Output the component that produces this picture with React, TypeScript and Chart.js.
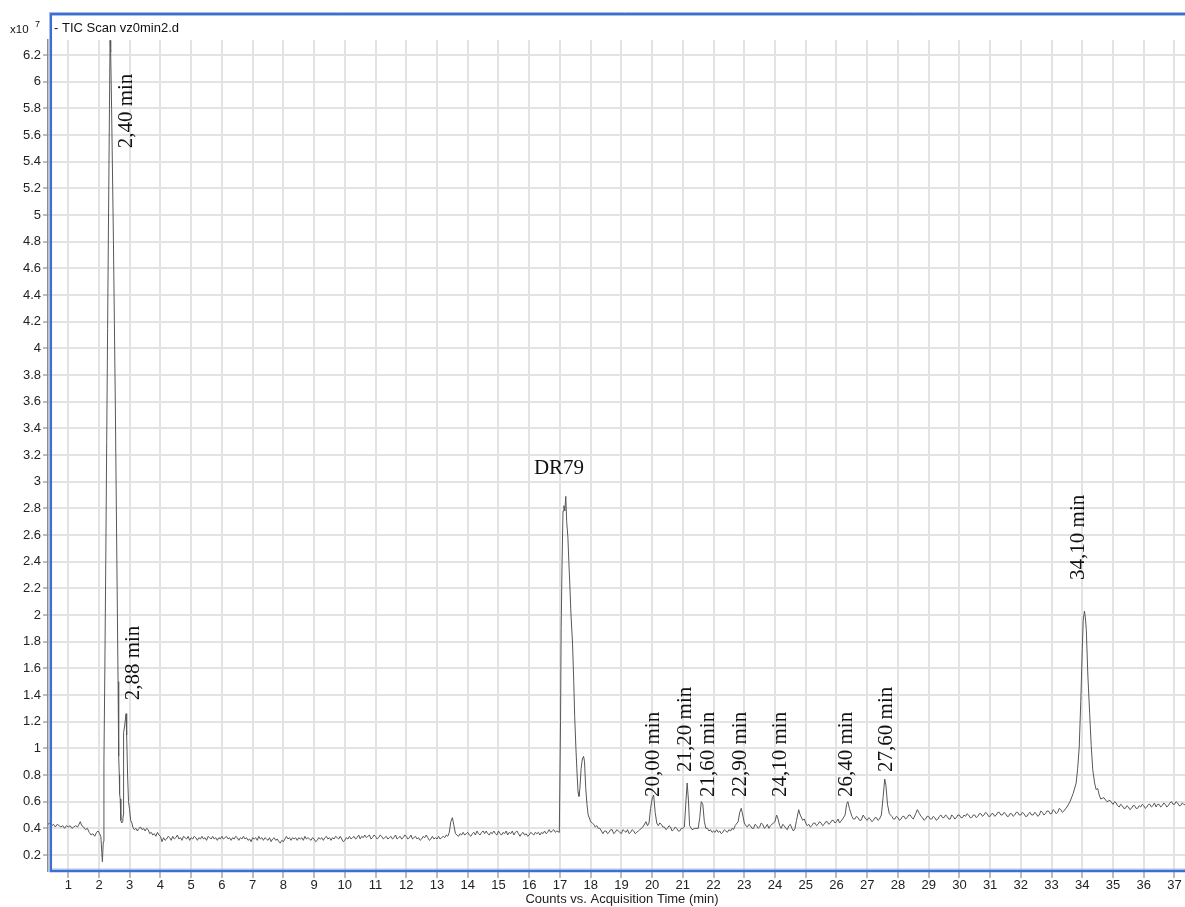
import React, { useEffect, useRef } from "react";
import { Chart, registerables } from "chart.js";

Chart.register(...registerables);

// ---- texts ----
const chartTitle = "- TIC Scan vz0min2.d";
const xAxisTitle = "Counts vs. Acquisition Time (min)";
const yScaleBase = "x10";
const yScaleExp = "7";

// ---- tick labels ----
const xTickValues = [1, 2, 3, 4, 5, 6, 7, 8, 9, 10, 11, 12, 13, 14, 15, 16, 17, 18, 19, 20, 21, 22, 23, 24, 25, 26, 27, 28, 29, 30, 31, 32, 33, 34, 35, 36, 37];
const yTickValues = [0.2, 0.4, 0.6, 0.8, 1, 1.2, 1.4, 1.6, 1.8, 2, 2.2, 2.4, 2.6, 2.8, 3, 3.2, 3.4, 3.6, 3.8, 4, 4.2, 4.4, 4.6, 4.8, 5, 5.2, 5.4, 5.6, 5.8, 6, 6.2];

// ---- TIC trace: [time (min), counts (x10^7)] ----
const segPre: [number, number][] = [
  [0.34, 0.43], [0.40, 0.44], [0.46, 0.42], [0.52, 0.43], [0.58, 0.41], [0.64, 0.43], [0.70, 0.42], [0.76, 0.41],
  [0.82, 0.42], [0.88, 0.40], [0.94, 0.42], [1.00, 0.41], [1.06, 0.42], [1.12, 0.40], [1.18, 0.41], [1.24, 0.42],
  [1.30, 0.41], [1.35, 0.43], [1.39, 0.45], [1.44, 0.42], [1.50, 0.41], [1.56, 0.39], [1.62, 0.40], [1.68, 0.37],
  [1.74, 0.35], [1.80, 0.36], [1.86, 0.34], [1.92, 0.37], [1.97, 0.38], [2.02, 0.36], [2.06, 0.34], [2.09, 0.22],
  [2.11, 0.15],
];

const segSolvent: [number, number][] = [
  [2.14, 0.30], [2.16, 0.90], [2.19, 1.60], [2.22, 2.40], [2.25, 3.30], [2.28, 4.15], [2.31, 5.00], [2.34, 5.80],
  [2.36, 6.31], [2.38, 6.22], [2.41, 5.80], [2.44, 5.30], [2.47, 4.80], [2.50, 4.20], [2.53, 3.60], [2.56, 2.90],
  [2.59, 2.20], [2.62, 1.50], [2.64, 0.94], [2.66, 0.80], [2.67, 0.66], [2.69, 0.62], [2.71, 0.46], [2.74, 0.44],
  [2.77, 0.45], [2.79, 0.50], [2.80, 1.12], [2.83, 1.16], [2.86, 1.22], [2.88, 1.26], [2.90, 1.10], [2.93, 0.80],
  [2.96, 0.60], [2.99, 0.55], [3.03, 0.46], [3.07, 0.44],
];

const segBase: [number, number][] = [
  [3.1, 0.41], [3.15, 0.39], [3.2, 0.40], [3.25, 0.38], [3.3, 0.40], [3.35, 0.41], [3.4, 0.39], [3.45, 0.40],
  [3.5, 0.38], [3.55, 0.40], [3.6, 0.39], [3.65, 0.36], [3.7, 0.37], [3.75, 0.35], [3.8, 0.36], [3.85, 0.34],
  [3.9, 0.37], [3.95, 0.35], [4.0, 0.34], [4.05, 0.30], [4.1, 0.33], [4.15, 0.31], [4.2, 0.32], [4.25, 0.34],
  [4.3, 0.33], [4.35, 0.31], [4.4, 0.34], [4.45, 0.32], [4.5, 0.33], [4.55, 0.35], [4.6, 0.32], [4.65, 0.33],
  [4.7, 0.31], [4.75, 0.34], [4.8, 0.33], [4.85, 0.32], [4.9, 0.34], [4.95, 0.31], [5.0, 0.33], [5.05, 0.32],
  [5.1, 0.34], [5.15, 0.33], [5.2, 0.31], [5.25, 0.33], [5.3, 0.32], [5.35, 0.34], [5.4, 0.32], [5.45, 0.33],
  [5.5, 0.31], [5.55, 0.34], [5.6, 0.33], [5.65, 0.32], [5.7, 0.34], [5.75, 0.32], [5.8, 0.33], [5.85, 0.31],
  [5.9, 0.33], [5.95, 0.32], [6.0, 0.34], [6.05, 0.32], [6.1, 0.33], [6.15, 0.34], [6.2, 0.32], [6.25, 0.33],
  [6.3, 0.31], [6.35, 0.33], [6.4, 0.32], [6.45, 0.34], [6.5, 0.33], [6.55, 0.31], [6.6, 0.33], [6.65, 0.32],
  [6.7, 0.34], [6.75, 0.32], [6.8, 0.33], [6.85, 0.31], [6.9, 0.32], [6.95, 0.30], [7.0, 0.33], [7.05, 0.32],
  [7.1, 0.33], [7.15, 0.31], [7.2, 0.34], [7.25, 0.32], [7.3, 0.33], [7.35, 0.31], [7.4, 0.33], [7.45, 0.32],
  [7.5, 0.31], [7.55, 0.33], [7.6, 0.30], [7.65, 0.32], [7.7, 0.33], [7.75, 0.31], [7.8, 0.32], [7.85, 0.30],
  [7.9, 0.29], [7.95, 0.31], [8.0, 0.30], [8.05, 0.32], [8.1, 0.34], [8.15, 0.32], [8.2, 0.33], [8.25, 0.31],
  [8.3, 0.33], [8.35, 0.32], [8.4, 0.33], [8.45, 0.31], [8.5, 0.33], [8.55, 0.32], [8.6, 0.33], [8.65, 0.31],
  [8.7, 0.34], [8.75, 0.32], [8.8, 0.33], [8.85, 0.32], [8.9, 0.31], [8.95, 0.33], [9.0, 0.32], [9.05, 0.30],
  [9.1, 0.31], [9.15, 0.33], [9.2, 0.32], [9.25, 0.33], [9.3, 0.31], [9.35, 0.33], [9.4, 0.34], [9.45, 0.32],
  [9.5, 0.33], [9.55, 0.31], [9.6, 0.33], [9.65, 0.32], [9.7, 0.34], [9.75, 0.33], [9.8, 0.32], [9.85, 0.34],
  [9.9, 0.32], [9.95, 0.30], [10.0, 0.31], [10.05, 0.33], [10.1, 0.32], [10.15, 0.34], [10.2, 0.32], [10.25, 0.33],
  [10.3, 0.34], [10.35, 0.32], [10.4, 0.33], [10.45, 0.35], [10.5, 0.32], [10.55, 0.34], [10.6, 0.33], [10.65, 0.35],
  [10.7, 0.33], [10.75, 0.34], [10.8, 0.35], [10.85, 0.32], [10.9, 0.33], [10.95, 0.35], [11.0, 0.34], [11.05, 0.32],
  [11.1, 0.33], [11.15, 0.35], [11.2, 0.34], [11.25, 0.32], [11.3, 0.33], [11.35, 0.34], [11.4, 0.32], [11.45, 0.33],
  [11.5, 0.34], [11.55, 0.32], [11.6, 0.33], [11.65, 0.35], [11.7, 0.32], [11.75, 0.33], [11.8, 0.34], [11.85, 0.32],
  [11.9, 0.33], [11.95, 0.35], [12.0, 0.34], [12.05, 0.32], [12.1, 0.33], [12.15, 0.35], [12.2, 0.32], [12.25, 0.33],
  [12.3, 0.34], [12.35, 0.32], [12.4, 0.33], [12.45, 0.31], [12.5, 0.32], [12.55, 0.34], [12.6, 0.33], [12.65, 0.35],
  [12.7, 0.33], [12.75, 0.31], [12.8, 0.32], [12.85, 0.34], [12.9, 0.32], [12.95, 0.33], [13.0, 0.32], [13.05, 0.34],
  [13.1, 0.32], [13.15, 0.33], [13.2, 0.34], [13.25, 0.33], [13.3, 0.35], [13.35, 0.34],
  [13.4, 0.37], [13.45, 0.45], [13.5, 0.48], [13.55, 0.42], [13.6, 0.36], [13.65, 0.35], [13.7, 0.34], [13.75, 0.36],
  [13.8, 0.35], [13.85, 0.37], [13.9, 0.35], [13.95, 0.36], [14.0, 0.37], [14.05, 0.35], [14.1, 0.34], [14.15, 0.36],
  [14.2, 0.37], [14.25, 0.35], [14.3, 0.38], [14.35, 0.36], [14.4, 0.35], [14.45, 0.37], [14.5, 0.38], [14.55, 0.36],
  [14.6, 0.38], [14.65, 0.36], [14.7, 0.35], [14.75, 0.37], [14.8, 0.36], [14.85, 0.38], [14.9, 0.36], [14.95, 0.35],
  [15.0, 0.38], [15.05, 0.36], [15.1, 0.35], [15.15, 0.37], [15.2, 0.36], [15.25, 0.38], [15.3, 0.35], [15.35, 0.37],
  [15.4, 0.36], [15.45, 0.38], [15.5, 0.35], [15.55, 0.37], [15.6, 0.38], [15.65, 0.36], [15.7, 0.34], [15.75, 0.36],
  [15.8, 0.37], [15.85, 0.35], [15.9, 0.36], [15.95, 0.34], [16.0, 0.35], [16.05, 0.37], [16.1, 0.36], [16.15, 0.35],
  [16.2, 0.37], [16.25, 0.36], [16.3, 0.37], [16.35, 0.35], [16.4, 0.37], [16.45, 0.36], [16.5, 0.38], [16.55, 0.36],
  [16.6, 0.37], [16.65, 0.39], [16.7, 0.37], [16.75, 0.38], [16.8, 0.39], [16.85, 0.37], [16.9, 0.38], [16.98, 0.37],
];

const segDR79: [number, number][] = [
  [17.0, 0.37], [17.02, 1.20], [17.04, 1.90], [17.07, 2.40], [17.10, 2.78], [17.13, 2.82], [17.16, 2.78], [17.19, 2.89],
  [17.22, 2.70], [17.26, 2.58], [17.29, 2.40], [17.32, 2.24], [17.36, 2.00], [17.41, 1.79], [17.45, 1.50], [17.48, 1.24],
  [17.52, 1.00], [17.56, 0.80], [17.59, 0.67], [17.62, 0.64], [17.65, 0.70], [17.69, 0.85], [17.73, 0.92], [17.77, 0.94],
  [17.80, 0.90], [17.84, 0.70], [17.88, 0.58], [17.92, 0.50], [17.97, 0.47], [18.0, 0.45], [18.05, 0.44],
];

const segMid: [number, number][] = [
  [18.1, 0.43], [18.15, 0.41], [18.2, 0.42], [18.25, 0.40], [18.3, 0.40], [18.35, 0.38], [18.4, 0.36], [18.45, 0.38],
  [18.5, 0.38], [18.55, 0.36], [18.6, 0.37], [18.65, 0.39], [18.7, 0.39], [18.75, 0.36], [18.8, 0.37], [18.85, 0.39],
  [18.9, 0.38], [18.95, 0.37], [19.0, 0.36], [19.05, 0.39], [19.1, 0.38], [19.15, 0.37], [19.2, 0.39], [19.25, 0.36],
  [19.3, 0.37], [19.35, 0.39], [19.4, 0.38], [19.45, 0.36], [19.5, 0.37], [19.55, 0.38], [19.6, 0.39],
  [19.7, 0.41], [19.8, 0.45], [19.85, 0.42], [19.9, 0.44], [19.95, 0.55], [20.0, 0.62], [20.05, 0.65], [20.1, 0.52],
  [20.15, 0.44], [20.2, 0.42], [20.25, 0.44], [20.3, 0.43], [20.35, 0.41], [20.4, 0.41], [20.45, 0.39], [20.5, 0.40],
  [20.55, 0.42], [20.6, 0.41], [20.65, 0.38], [20.7, 0.39], [20.75, 0.41], [20.8, 0.40], [20.85, 0.38], [20.9, 0.38],
  [20.95, 0.40], [21.0, 0.40], [21.05, 0.41], [21.1, 0.60], [21.14, 0.74], [21.18, 0.62], [21.22, 0.42], [21.3, 0.39],
  [21.4, 0.40], [21.5, 0.40], [21.55, 0.48], [21.6, 0.60], [21.65, 0.58], [21.7, 0.45], [21.75, 0.40], [21.8, 0.40],
  [21.85, 0.38], [21.9, 0.39], [21.95, 0.37], [22.0, 0.38], [22.05, 0.37], [22.1, 0.39], [22.15, 0.37], [22.2, 0.38],
  [22.25, 0.36], [22.3, 0.37], [22.35, 0.39], [22.4, 0.38], [22.45, 0.37], [22.5, 0.39], [22.55, 0.38], [22.6, 0.40],
  [22.65, 0.39], [22.7, 0.42], [22.8, 0.45], [22.85, 0.52], [22.9, 0.55], [22.95, 0.50], [23.0, 0.44], [23.05, 0.42],
  [23.1, 0.41], [23.15, 0.43], [23.2, 0.42], [23.25, 0.40], [23.3, 0.40], [23.35, 0.43], [23.4, 0.42], [23.45, 0.40],
  [23.5, 0.41], [23.55, 0.44], [23.6, 0.43], [23.65, 0.40], [23.7, 0.41], [23.75, 0.43], [23.8, 0.40], [23.85, 0.42],
  [23.9, 0.43], [24.0, 0.45], [24.05, 0.50], [24.1, 0.47], [24.15, 0.42], [24.2, 0.40], [24.25, 0.43], [24.3, 0.42],
  [24.35, 0.40], [24.4, 0.39], [24.45, 0.42], [24.5, 0.43], [24.55, 0.40], [24.6, 0.38], [24.65, 0.40], [24.7, 0.46],
  [24.77, 0.54], [24.82, 0.50], [24.9, 0.46], [24.95, 0.47], [25.0, 0.44], [25.05, 0.42], [25.1, 0.43], [25.15, 0.41],
  [25.2, 0.42], [25.25, 0.44], [25.3, 0.44], [25.35, 0.42], [25.4, 0.43], [25.45, 0.45], [25.5, 0.44], [25.55, 0.42],
  [25.6, 0.43], [25.65, 0.45], [25.7, 0.45], [25.75, 0.43], [25.8, 0.44], [25.85, 0.46], [25.9, 0.46], [25.95, 0.44],
  [26.0, 0.45], [26.05, 0.47], [26.1, 0.44], [26.2, 0.47], [26.28, 0.50], [26.33, 0.58], [26.37, 0.60], [26.42, 0.55],
  [26.5, 0.49], [26.55, 0.47], [26.6, 0.47], [26.65, 0.49], [26.7, 0.48], [26.75, 0.46], [26.8, 0.46], [26.87, 0.50],
  [26.95, 0.47], [27.0, 0.46], [27.05, 0.48], [27.1, 0.47], [27.15, 0.45], [27.2, 0.46], [27.25, 0.48], [27.3, 0.48],
  [27.35, 0.46], [27.4, 0.47], [27.46, 0.50], [27.52, 0.64], [27.57, 0.77], [27.61, 0.72], [27.66, 0.58], [27.72, 0.51],
  [27.8, 0.49], [27.85, 0.47], [27.9, 0.47], [27.95, 0.49], [28.0, 0.48], [28.05, 0.46], [28.1, 0.47], [28.15, 0.49],
  [28.2, 0.49], [28.25, 0.47], [28.3, 0.48], [28.35, 0.50], [28.4, 0.50], [28.45, 0.48], [28.5, 0.47], [28.58, 0.51],
  [28.63, 0.54], [28.7, 0.51], [28.75, 0.49], [28.8, 0.48], [28.85, 0.46], [28.9, 0.47], [28.95, 0.49], [29.0, 0.49],
  [29.05, 0.47], [29.1, 0.47], [29.15, 0.49], [29.2, 0.48], [29.25, 0.46], [29.3, 0.47], [29.35, 0.49], [29.4, 0.50],
  [29.45, 0.48], [29.5, 0.48], [29.55, 0.50], [29.6, 0.49], [29.65, 0.47], [29.7, 0.47], [29.75, 0.50], [29.8, 0.49],
  [29.85, 0.47], [29.9, 0.48], [29.95, 0.50], [30.0, 0.50], [30.05, 0.48], [30.1, 0.48], [30.15, 0.50], [30.2, 0.49],
  [30.25, 0.51], [30.3, 0.50], [30.35, 0.48], [30.4, 0.48], [30.45, 0.50], [30.5, 0.50], [30.55, 0.48], [30.6, 0.49],
  [30.65, 0.51], [30.7, 0.51], [30.75, 0.49], [30.8, 0.50], [30.85, 0.52], [30.9, 0.51], [30.95, 0.49], [31.0, 0.49],
  [31.05, 0.51], [31.1, 0.51], [31.15, 0.49], [31.2, 0.50], [31.25, 0.52], [31.3, 0.52], [31.35, 0.50], [31.4, 0.50],
  [31.45, 0.52], [31.5, 0.51], [31.55, 0.49], [31.6, 0.49], [31.65, 0.51], [31.7, 0.51], [31.75, 0.49], [31.8, 0.50],
  [31.85, 0.52], [31.9, 0.52], [31.95, 0.50], [32.0, 0.50], [32.05, 0.52], [32.1, 0.51], [32.15, 0.49], [32.2, 0.49],
  [32.25, 0.51], [32.3, 0.52], [32.35, 0.50], [32.4, 0.50], [32.45, 0.52], [32.5, 0.51], [32.55, 0.49], [32.6, 0.50],
  [32.65, 0.53], [32.7, 0.52], [32.75, 0.50], [32.8, 0.51], [32.85, 0.53], [32.9, 0.53], [32.95, 0.51], [33.0, 0.51],
  [33.05, 0.54], [33.1, 0.53], [33.15, 0.51], [33.2, 0.52], [33.25, 0.55], [33.3, 0.54], [33.35, 0.52], [33.4, 0.53],
];

const segPeak34: [number, number][] = [
  [33.5, 0.56], [33.6, 0.60], [33.7, 0.66], [33.8, 0.74], [33.85, 0.85], [33.9, 1.01], [33.95, 1.35], [34.0, 1.75],
  [34.03, 1.96], [34.07, 2.03], [34.1, 1.98], [34.13, 1.89], [34.18, 1.55], [34.24, 1.26], [34.29, 1.02], [34.34, 0.84],
  [34.4, 0.74], [34.45, 0.69], [34.5, 0.70], [34.55, 0.65], [34.6, 0.62], [34.7, 0.63], [34.8, 0.60], [34.9, 0.61],
  [35.0, 0.58],
];

const segTail: [number, number][] = [
  [35.05, 0.60], [35.1, 0.59], [35.15, 0.57], [35.2, 0.56], [35.25, 0.58], [35.3, 0.57], [35.35, 0.55], [35.4, 0.55],
  [35.45, 0.57], [35.5, 0.56], [35.55, 0.54], [35.6, 0.55], [35.65, 0.57], [35.7, 0.57], [35.75, 0.55], [35.8, 0.55],
  [35.85, 0.57], [35.9, 0.56], [35.95, 0.58], [36.0, 0.57], [36.05, 0.55], [36.1, 0.56], [36.15, 0.58], [36.2, 0.58],
  [36.25, 0.56], [36.3, 0.57], [36.35, 0.59], [36.4, 0.56], [36.45, 0.58], [36.5, 0.58], [36.55, 0.56], [36.6, 0.57],
  [36.65, 0.59], [36.7, 0.58], [36.75, 0.56], [36.8, 0.57], [36.85, 0.59], [36.9, 0.60], [36.95, 0.58], [37.0, 0.58],
  [37.05, 0.60], [37.1, 0.59], [37.15, 0.57], [37.2, 0.57], [37.25, 0.59], [37.3, 0.58], [37.4, 0.57], [37.5, 0.58],
  [37.6, 0.57], [37.7, 0.58],
];

// ---- peak annotations (anchor in data units: time, counts) ----
const peakLabelTexts = ["2,40 min", "2,88 min", "DR79", "20,00 min", "21,20 min", "21,60 min", "22,90 min", "24,10 min", "26,40 min", "27,60 min", "34,10 min"];
const peakLabelTimes = [2.91, 3.12, 16.97, 20.03, 21.07, 21.85, 22.86, 24.19, 26.34, 27.64, 33.86];
const peakLabelCounts = [5.5, 1.36, 3.1, 0.635, 0.823, 0.635, 0.635, 0.635, 0.635, 0.823, 2.263];
const peakLabelVertical = [true, true, false, true, true, true, true, true, true, true, true];

const SANS = '"Liberation Sans", Arial, sans-serif';
const SERIF = '"Liberation Serif", "Times New Roman", serif';

export default function App() {
  const ref = useRef<HTMLCanvasElement>(null);

  useEffect(() => {
    const canvas = ref.current;
    if (!canvas) return;
    const points = [...segPre, ...segSolvent, ...segBase, ...segDR79, ...segMid, ...segPeak34, ...segTail].map(
      ([x, y]) => ({ x, y })
    );

    const decorPlugin = {
      id: "decor",
      afterDraw(chart: any) {
        const { ctx, scales } = chart;
        const xs = scales.x;
        const ys = scales.y;
        ctx.save();
        // peak labels
        ctx.fillStyle = "#111";
        ctx.font = `21px ${SERIF}`;
        peakLabelTexts.forEach((text, i) => {
          const px = xs.getPixelForValue(peakLabelTimes[i]);
          const py = ys.getPixelForValue(peakLabelCounts[i]);
          if (peakLabelVertical[i]) {
            ctx.save();
            ctx.translate(px, py);
            ctx.rotate(-Math.PI / 2);
            ctx.textAlign = "left";
            ctx.textBaseline = "middle";
            ctx.fillText(text, 0, 0);
            ctx.restore();
          } else {
            ctx.textAlign = "center";
            ctx.textBaseline = "middle";
            ctx.fillText(text, px, py);
          }
        });
        // blue frame
        const area = chart.chartArea;
        ctx.strokeStyle = "#aac0e6";
        ctx.lineWidth = 1;
        ctx.beginPath();
        ctx.moveTo(49, 12.5);
        ctx.lineTo(1200, 12.5);
        ctx.moveTo(52, 869);
        ctx.lineTo(1200, 869);
        ctx.stroke();
        ctx.strokeStyle = "#3b6fd1";
        ctx.lineWidth = 2.5;
        ctx.strokeRect(50.8, 14.2, 1197 - 50.8, area.bottom - 14.2);
        // title
        ctx.fillStyle = "#111";
        ctx.font = `13px ${SANS}`;
        ctx.textAlign = "left";
        ctx.textBaseline = "middle";
        ctx.fillText(chartTitle, 54, 28);
        // scale factor
        ctx.font = `11.5px ${SANS}`;
        ctx.fillText(yScaleBase, 10, 29.5);
        ctx.font = `9px ${SANS}`;
        ctx.fillText(yScaleExp, 35, 25);
        ctx.restore();
      },
    };

    const chart = new Chart(canvas, {
      type: "line",
      data: {
        datasets: [
          {
            data: points,
            borderColor: "#575757",
            borderWidth: 1,
            pointRadius: 0,
            fill: false,
            tension: 0,
          },
        ],
      },
      options: {
        animation: false,
        responsive: false,
        events: [],
        layout: { padding: { top: 40, right: 4, left: 0, bottom: 0 } },
        plugins: { legend: { display: false }, tooltip: { enabled: false }, title: { display: false } },
        scales: {
          x: {
            type: "linear",
            min: 0.34,
            max: 37.7,
            afterBuildTicks: (axis: any) => {
              axis.ticks = xTickValues.map((v) => ({ value: v }));
            },
            afterFit: (axis: any) => {
              axis.height = 36;
            },
            border: { display: false },
            grid: {
              color: "#e3e3e3",
              lineWidth: 2,
              drawTicks: true,
              tickLength: 7,
              tickColor: "#7a7a7a",
              tickWidth: 1,
            },
            ticks: {
              autoSkip: false,
              maxRotation: 0,
              minRotation: 0,
              padding: 0,
              color: "#222",
              font: { family: SANS, size: 13 },
              callback: (v: any) => String(v),
            },
            title: {
              display: true,
              text: xAxisTitle,
              color: "#222",
              font: { family: SANS, size: 13 },
              padding: { top: 0, bottom: 0 },
            },
          },
          y: {
            type: "linear",
            min: 0.08,
            max: 6.3125,
            afterBuildTicks: (axis: any) => {
              axis.ticks = yTickValues.map((v) => ({ value: v }));
            },
            afterFit: (axis: any) => {
              axis.width = 48;
            },
            border: { display: true, color: "#8c8c8c", width: 1.5 },
            grid: {
              color: "#e3e3e3",
              lineWidth: 2,
              drawTicks: true,
              tickLength: 5,
              tickColor: "#7a7a7a",
              tickWidth: 1,
            },
            ticks: {
              autoSkip: false,
              padding: 2,
              color: "#222",
              font: { family: SANS, size: 13 },
              callback: (v: any) => String(Math.round(Number(v) * 10) / 10),
            },
          },
        },
      },
      plugins: [decorPlugin],
    });
    return () => chart.destroy();
  }, []);

  return (
    <div
      style={{
        position: "absolute",
        left: 0,
        top: 0,
        width: 1185,
        height: 907,
        overflow: "hidden",
        background: "#fff",
      }}
    >
      <canvas ref={ref} width={1200} height={907} style={{ display: "block" }} />
    </div>
  );
}
